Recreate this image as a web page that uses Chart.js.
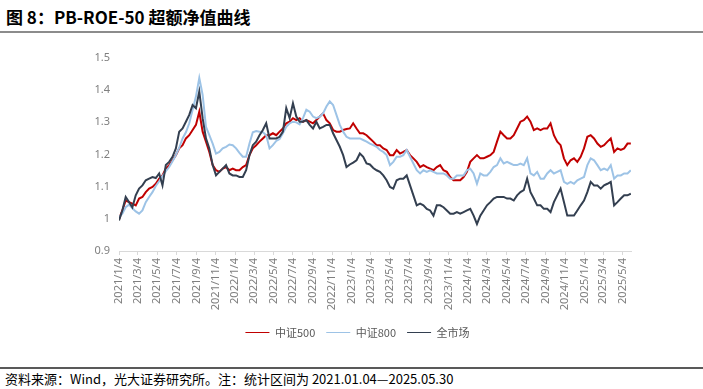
<!DOCTYPE html>
<html>
<head>
<meta charset="utf-8">
<script src="https://cdn.jsdelivr.net/npm/chart.js@4"></script>
<style>
  body { margin: 0; background: #fff; width: 703px; height: 389px; position: relative; overflow: hidden; font-family: "Noto Sans CJK SC", "Noto Sans", sans-serif; }
  #title { position: absolute; left: 6px; top: 4px; font-size: 17px; font-weight: bold; color: #000; }
  #topLine { position: absolute; left: 0; top: 31px; width: 703px; height: 2px; background: #8c8c8c; }
  #box { position: absolute; left: 0; top: 40px; width: 703px; height: 320px; }
  #bottomLine { position: absolute; left: 0; top: 367px; width: 703px; height: 2px; background: #595959; }
  #source { position: absolute; left: 5px; top: 369px; font-size: 13px; color: #000; }
</style>
</head>
<body>
<div id="title">图 8：PB-ROE-50 超额净值曲线</div>
<div id="topLine"></div>
<div id="box"><canvas id="myChart"></canvas></div>
<div id="bottomLine"></div>
<div id="source">资料来源：Wind，光大证券研究所。注：统计区间为 2021.01.04—2025.05.30</div>
<script>
// readings every ~10.5 calendar days starting 2021/1/4
const startDate = "2021/1/4";
const endDate = "2025/5/30";
const stepDays = 10.5;

const tickLabels = [
  "2021/1/4", "2021/3/4", "2021/5/4", "2021/7/4", "2021/9/4", "2021/11/4",
  "2022/1/4", "2022/3/4", "2022/5/4", "2022/7/4", "2022/9/4", "2022/11/4",
  "2023/1/4", "2023/3/4", "2023/5/4", "2023/7/4", "2023/9/4", "2023/11/4",
  "2024/1/4", "2024/3/4", "2024/5/4", "2024/7/4", "2024/9/4", "2024/11/4",
  "2025/1/4", "2025/3/4", "2025/5/4",
];

const seriesNames = ["中证500", "中证800", "全市场"];

const csi500 = [
  0.998, 1.026, 1.057, 1.052, 1.047, 1.042, 1.063, 1.068, 1.083, 1.094, 1.099, 1.109, 1.125, 1.135, 1.156, 1.167,
  1.182, 1.198, 1.219, 1.229, 1.250, 1.260, 1.276, 1.292, 1.333, 1.271, 1.240, 1.208, 1.167, 1.151, 1.146, 1.156,
  1.161, 1.151, 1.156, 1.151, 1.151, 1.161, 1.167, 1.198, 1.219, 1.229, 1.240, 1.250, 1.260, 1.260, 1.266, 1.260,
  1.271, 1.281, 1.297, 1.302, 1.313, 1.307, 1.313, 1.302, 1.307, 1.302, 1.297, 1.307, 1.318, 1.328, 1.307, 1.297,
  1.276, 1.271, 1.271, 1.276, 1.279, 1.281, 1.297, 1.281, 1.266, 1.266, 1.260, 1.250, 1.240, 1.229, 1.229, 1.219,
  1.214, 1.198, 1.198, 1.214, 1.203,
  1.208, 1.214, 1.198, 1.188, 1.177, 1.161, 1.167, 1.161, 1.156, 1.151, 1.161, 1.167, 1.151, 1.146, 1.130, 1.120,
  1.120, 1.120, 1.130, 1.146, 1.177, 1.188, 1.198, 1.188, 1.188, 1.193, 1.198, 1.208, 1.240, 1.271, 1.260, 1.250,
  1.250, 1.260, 1.281, 1.302, 1.307, 1.318, 1.302, 1.276, 1.281, 1.276, 1.281, 1.281, 1.297, 1.260, 1.240, 1.229,
  1.188, 1.167, 1.182, 1.188, 1.177, 1.193, 1.219, 1.255, 1.260, 1.250, 1.234, 1.224, 1.229, 1.240, 1.250, 1.208,
  1.219, 1.214, 1.219, 1.234, 1.234,
];

const csi800 = [
  1.005, 1.016, 1.036, 1.044, 1.033, 1.023, 1.016, 1.026, 1.052, 1.068, 1.083, 1.102, 1.117, 1.133, 1.148, 1.161,
  1.179, 1.198, 1.221, 1.250, 1.269, 1.297, 1.339, 1.380, 1.438, 1.385, 1.286, 1.260, 1.234, 1.203, 1.208, 1.219,
  1.224, 1.231, 1.229, 1.219, 1.205, 1.193, 1.193, 1.234, 1.269, 1.273, 1.271, 1.269, 1.260, 1.219, 1.229, 1.242,
  1.248, 1.266, 1.286, 1.297, 1.302, 1.300, 1.294, 1.313, 1.339, 1.333, 1.318, 1.313, 1.318, 1.328, 1.349, 1.365,
  1.354, 1.323, 1.292, 1.271, 1.255, 1.250, 1.250, 1.250, 1.250, 1.245, 1.240, 1.234, 1.229, 1.224, 1.214, 1.208,
  1.198, 1.167, 1.177, 1.193, 1.193,
  1.198, 1.214, 1.193, 1.172, 1.151, 1.141, 1.151, 1.146, 1.151, 1.146, 1.141, 1.141, 1.141, 1.135, 1.125, 1.125,
  1.135, 1.135, 1.135, 1.151, 1.156, 1.141, 1.109, 1.141, 1.135, 1.135, 1.146, 1.161, 1.167, 1.188, 1.172, 1.177,
  1.172, 1.167, 1.167, 1.172, 1.167, 1.188, 1.141, 1.135, 1.146, 1.125, 1.125, 1.141, 1.151, 1.141, 1.146, 1.151,
  1.115, 1.109, 1.115, 1.109, 1.120, 1.125, 1.130, 1.167, 1.188, 1.182, 1.167, 1.151, 1.156, 1.151, 1.167, 1.125,
  1.135, 1.135, 1.141, 1.141, 1.151,
];

const allMarket = [
  0.995, 1.026, 1.068, 1.052, 1.036, 1.073, 1.094, 1.104, 1.120, 1.125, 1.130, 1.127, 1.141, 1.104, 1.167, 1.177,
  1.193, 1.219, 1.271, 1.281, 1.302, 1.323, 1.354, 1.344, 1.396, 1.313, 1.250, 1.219, 1.167, 1.135, 1.146, 1.156,
  1.167, 1.141, 1.135, 1.135, 1.130, 1.130, 1.151, 1.198, 1.229, 1.240, 1.260, 1.276, 1.297, 1.250, 1.250, 1.250,
  1.255, 1.271, 1.344, 1.313, 1.359, 1.318, 1.302, 1.302, 1.307, 1.292, 1.281, 1.302, 1.281, 1.286, 1.292, 1.292,
  1.266, 1.245, 1.224, 1.198, 1.161, 1.169, 1.175, 1.182, 1.203, 1.193, 1.172, 1.169, 1.158, 1.151, 1.146, 1.135,
  1.120, 1.099, 1.094, 1.120, 1.125,
  1.125, 1.135, 1.104, 1.073, 1.042, 1.047, 1.042, 1.031, 1.026, 1.010, 1.042, 1.042, 1.036, 1.026, 1.016, 1.016,
  1.021, 1.016, 1.021, 1.026, 1.031, 1.010, 0.984, 1.010, 1.026, 1.042, 1.052, 1.063, 1.068, 1.068, 1.068, 1.063,
  1.063, 1.057, 1.073, 1.083, 1.089, 1.125, 1.083, 1.063, 1.042, 1.042, 1.031, 1.031, 1.021, 1.052, 1.073, 1.094,
  1.052, 1.010, 1.010, 1.010, 1.026, 1.042, 1.057, 1.083, 1.115, 1.104, 1.104, 1.094, 1.104, 1.109, 1.115, 1.042,
  1.052, 1.063, 1.073, 1.073, 1.078,
];

const colors = ["#C00000", "#9DC3E6", "#333F50"];

function dayOf(s) {
  const p = s.split("/").map(Number);
  const d0 = startDate.split("/").map(Number);
  return (Date.UTC(p[0], p[1] - 1, p[2]) - Date.UTC(d0[0], d0[1] - 1, d0[2])) / 86400000;
}

function toPoints(arr) {
  return arr.map((v, i) => ({ x: i * stepDays, y: v }));
}

const tickDays = tickLabels.map(dayOf);

// later series drawn on top, like the original
const data = {
  datasets: [
    { label: seriesNames[0], data: toPoints(csi500), borderColor: colors[0], backgroundColor: colors[0], order: 3 },
    { label: seriesNames[1], data: toPoints(csi800), borderColor: colors[1], backgroundColor: colors[1], order: 2 },
    { label: seriesNames[2], data: toPoints(allMarket), borderColor: colors[2], backgroundColor: colors[2], order: 1 },
  ],
};

const font = { family: '"Noto Sans", "Noto Sans CJK SC", sans-serif', size: 11 };

const config = {
  type: "line",
  data,
  options: {
    responsive: true,
    maintainAspectRatio: false,
    animation: false,
    layout: { padding: { top: 18, right: 72, bottom: 12, left: 84 } },
    elements: {
      point: { radius: 0 },
      line: { borderWidth: 2, tension: 0 },
    },
    plugins: {
      tooltip: { enabled: false },
      legend: {
        position: "bottom",
        labels: {
          usePointStyle: true,
          pointStyle: "line",
          pointStyleWidth: 24,
          padding: 11,
          color: "#595959",
          font: { family: '"Noto Sans CJK SC", sans-serif', size: 11 },
          sort: (a, b) => a.datasetIndex - b.datasetIndex,
        },
      },
    },
    scales: {
      x: {
        type: "linear",
        min: 0,
        max: dayOf(endDate),
        afterFit: (scale) => { scale.height = 65; },
        afterBuildTicks: (scale) => { scale.ticks = tickDays.map((d) => ({ value: d })); },
        grid: { drawOnChartArea: false, color: "#d9d9d9", tickLength: 4 },
        border: { color: "#d9d9d9" },
        ticks: {
          autoSkip: false,
          minRotation: 90,
          maxRotation: 90,
          color: "#7f7f7f",
          font,
          callback: (v) => tickLabels[tickDays.indexOf(v)],
        },
      },
      y: {
        min: 0.9,
        max: 1.5,
        afterFit: (scale) => { scale.width = 35; },
        grid: { display: false },
        border: { display: false },
        ticks: {
          stepSize: 0.1,
          color: "#7f7f7f",
          font,
          padding: 1,
          callback: (v) => String(Number(v.toFixed(1))),
        },
      },
    },
  },
};

const myChart = new Chart(document.getElementById("myChart"), config);
</script>
</body>
</html>
